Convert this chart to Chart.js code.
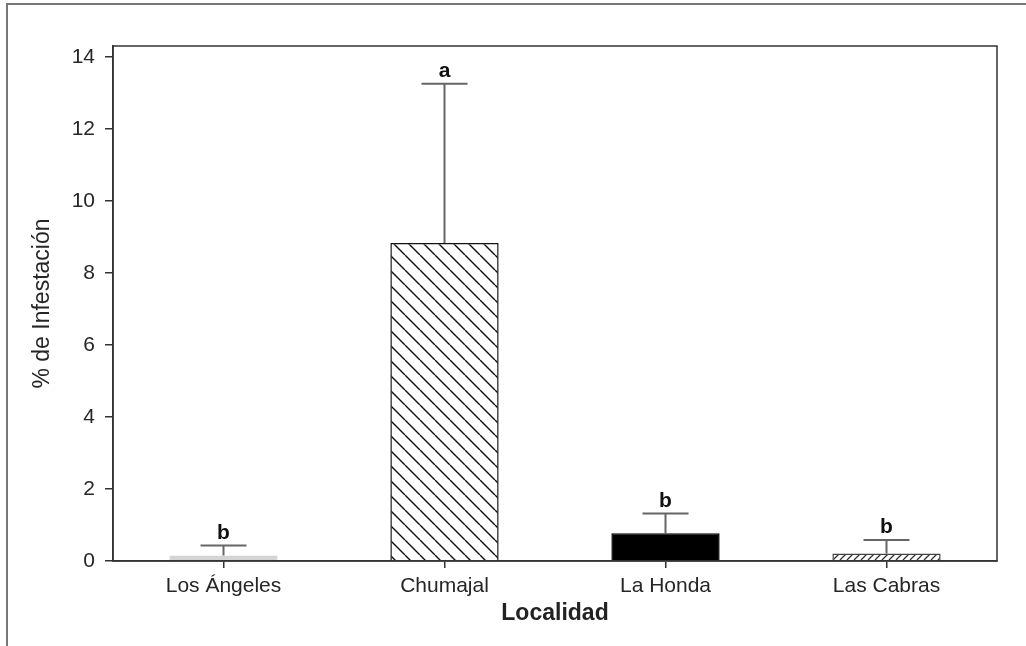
<!DOCTYPE html>
<html>
<head>
<meta charset="utf-8">
<script src="https://cdn.jsdelivr.net/npm/chart.js@4.4.1/dist/chart.umd.min.js"></script>
<style>
  html, body { margin: 0; padding: 0; background: #fff; }
  canvas { display: block; }
</style>
</head>
<body>
<canvas id="myChart" width="1026" height="646"></canvas>
<script>
var categories = ["Los Ángeles", "Chumajal", "La Honda", "Las Cabras"];
var means = [0.15, 8.83, 0.77, 0.21];
var upperErr = [0.28, 4.42, 0.55, 0.37];
var letters = ["b", "a", "b", "b"];
var yTicks = [0, 2, 4, 6, 8, 10, 12, 14];

var fontFam = "'Liberation Sans', Arial, sans-serif";

// hatch fills
function hatch(size, dir, color, width) {
  var c = document.createElement("canvas");
  c.width = size; c.height = size;
  var g = c.getContext("2d");
  g.fillStyle = "#fff";
  g.fillRect(0, 0, size, size);
  g.strokeStyle = color;
  g.lineWidth = width;
  g.beginPath();
  for (var o = -size; o <= size; o += size) {
    if (dir == "back") { g.moveTo(o, 0); g.lineTo(o + size, size); }
    else { g.moveTo(o, size); g.lineTo(o + size, 0); }
  }
  g.stroke();
  return g.createPattern(c, "repeat");
}

var ctx0 = document.getElementById("myChart").getContext("2d");
var fills = ["#d4d4d4", hatch(15, "back", "#111", 1.4), "#000", hatch(7, "fwd", "#333", 1.3)];
var borders = ["#d4d4d4", "#111", "#000", "#444"];

var extras = {
  id: "extras",
  beforeDraw: function(chart) {
    var c = chart.ctx;
    c.save();
    c.strokeStyle = "#777";
    c.lineWidth = 2;
    c.beginPath();
    c.moveTo(7, 646); c.lineTo(7, 4); c.lineTo(1026, 4);
    c.stroke();
    c.restore();
  },
  afterDatasetsDraw: function(chart) {
    var c = chart.ctx, x = chart.scales.x, y = chart.scales.y, a = chart.chartArea;
    c.save();
    c.strokeStyle = "#666";
    c.lineWidth = 2;
    for (var i = 0; i < categories.length; i++) {
      var cx = x.getPixelForValue(i);
      var y0 = y.getPixelForValue(means[i]);
      var y1 = y.getPixelForValue(means[i] + upperErr[i]);
      c.beginPath();
      c.moveTo(cx, y0); c.lineTo(cx, y1);
      c.moveTo(cx - 23, y1); c.lineTo(cx + 23, y1);
      c.stroke();
      c.fillStyle = "#111";
      c.font = "bold 21px " + fontFam;
      c.textAlign = "center";
      c.textBaseline = "bottom";
      c.fillText(letters[i], cx, y1 - 2);
    }
    c.strokeStyle = "#333";
    c.lineWidth = 1.5;
    c.strokeRect(a.left, a.top, a.right - a.left, a.bottom - a.top);
    c.restore();
  }
};

var myChart = new Chart(ctx0, {
  type: "bar",
  data: {
    labels: categories,
    datasets: [{
      data: means,
      backgroundColor: fills,
      borderColor: borders,
      borderWidth: 1.5,
      barPercentage: 0.49,
      categoryPercentage: 1.0
    }]
  },
  options: {
    responsive: false,
    animation: false,
    layout: {padding: {left: 0, top: 46, right: 29, bottom: 0}},
    plugins: {legend: {display: false}, tooltip: {enabled: false}},
    scales: {
      x: {
        afterFit: function(s) { s.height = 85; },
        grid: {display: true, offset: false, drawOnChartArea: false, drawTicks: true, tickLength: 7, color: "#333", lineWidth: 1.5},
        border: {display: true, color: "#333", width: 1.5},
        ticks: {color: "#262626", padding: 6, font: {family: fontFam, size: 21}},
        title: {display: true, text: "Localidad", color: "#222", padding: {top: 19, bottom: 19}, font: {family: fontFam, size: 23, weight: "bold"}}
      },
      y: {
        min: 0,
        max: 14.3,
        afterFit: function(s) { s.width = 113; },
        afterBuildTicks: function(s) { s.ticks = yTicks.map(function(v) { return {value: v}; }); },
        grid: {display: true, drawOnChartArea: false, drawTicks: true, tickLength: 8, color: "#333", lineWidth: 1.5},
        border: {display: true, color: "#333", width: 1.5},
        ticks: {color: "#262626", padding: 10, font: {family: fontFam, size: 21}},
        title: {display: true, text: "% de Infestación", color: "#262626", padding: {top: 29, bottom: 4}, font: {family: fontFam, size: 23}}
      }
    }
  },
  plugins: [extras]
});
</script>
</body>
</html>
